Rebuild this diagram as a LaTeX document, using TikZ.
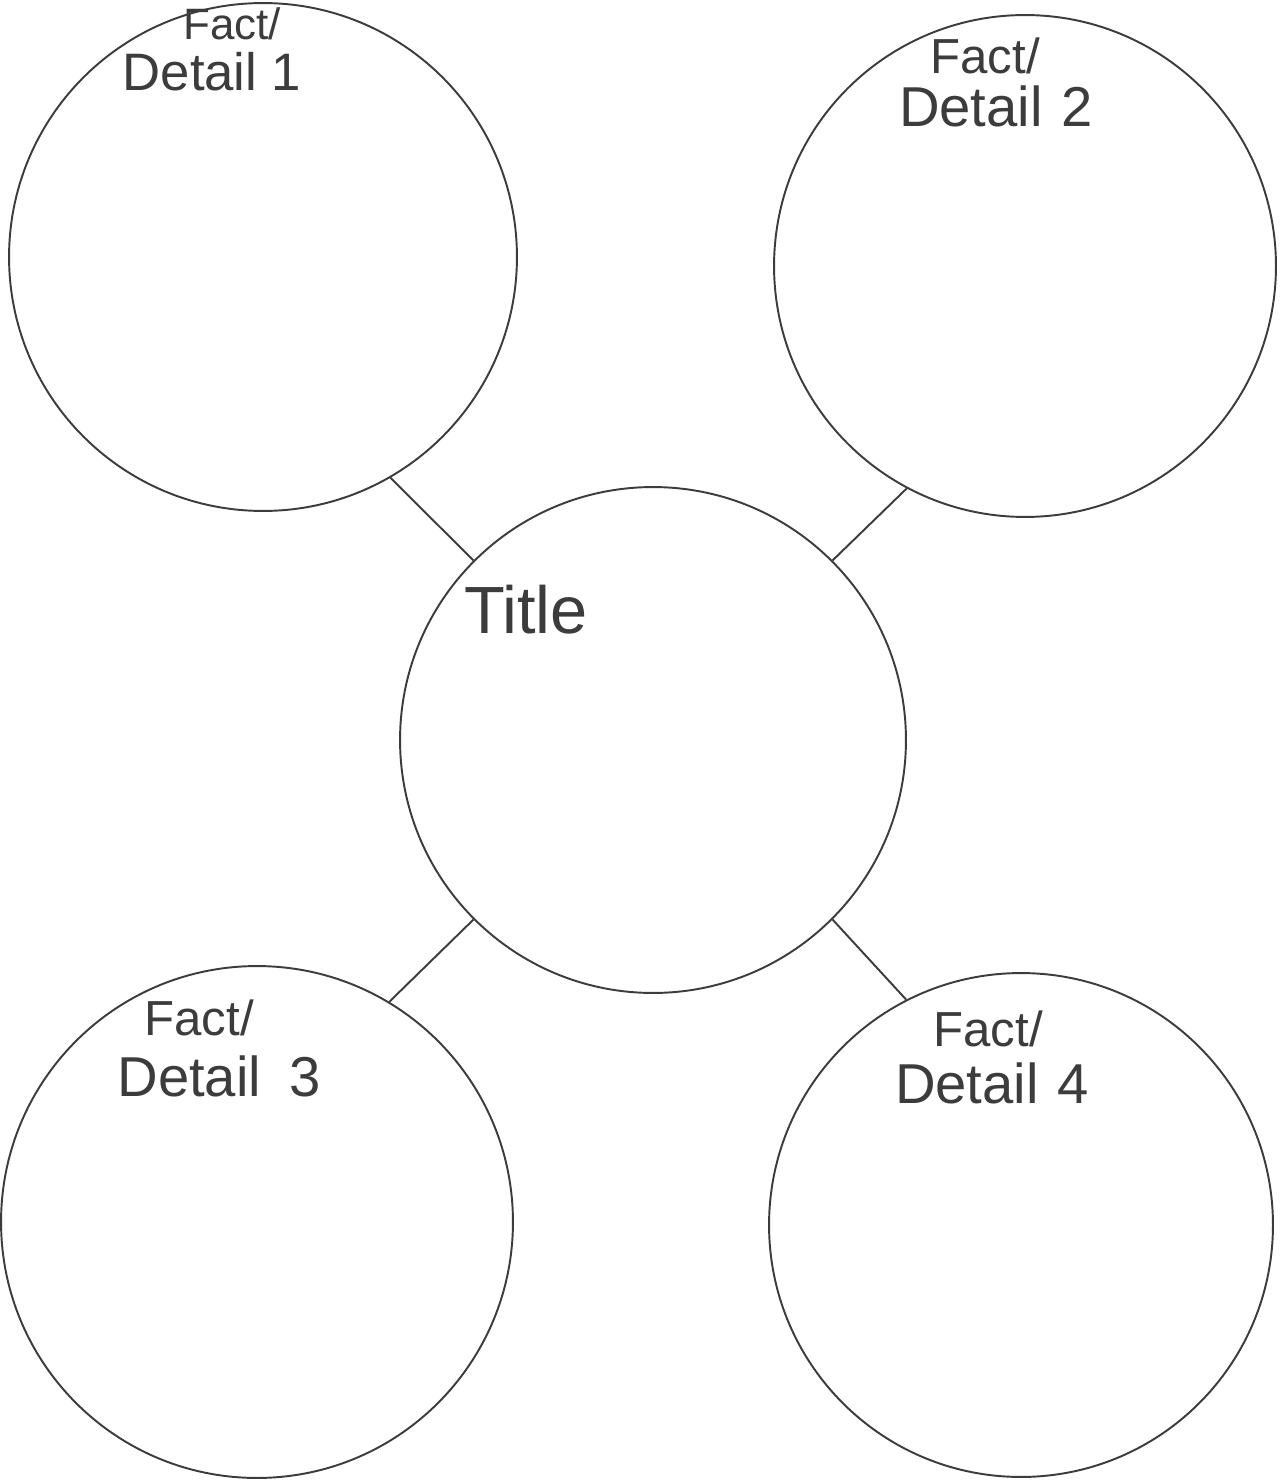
\documentclass[tikz,border=0pt]{standalone}
\usepackage{fontspec}
\setmainfont{Liberation Sans}
\definecolor{ink}{HTML}{3C3C3C}
\begin{document}
\begin{tikzpicture}[x=0.02cm,y=-0.02cm,
  bubble/.style={draw=ink,line width=1.1pt,circle,inner sep=0pt},
  link/.style={draw=ink,line width=1.1pt},
  lbl/.style={text=ink,inner sep=0pt,font=\fontsize{32}{36}\selectfont},
  small/.style={text=ink,inner sep=0pt,font=\fontsize{28}{32}\selectfont}]
\useasboundingbox[fill=white] (0,0) rectangle (1280,1483);
% circles
\node[bubble,minimum size=10.16cm] (c1) at (263,257) {};
\node[bubble,minimum size=10.04cm] (c2) at (1025,266) {};
\node[bubble,minimum size=10.12cm] (ct) at (653,740) {};
\node[bubble,minimum size=10.24cm] (c3) at (257,1222) {};
\node[bubble,minimum size=10.08cm] (c4) at (1021,1225) {};
% connectors
\draw[link] (c1.-60) -- (ct.135);
\draw[link] (c2.-118) -- (ct.45);
\draw[link] (ct.225) -- (c3.59);
\draw[link] (ct.315) -- (c4.117);
% labels
\node[small,font=\fontsize{25}{30}\selectfont] (f1) at (232,24) {Fact/};
\node[lbl,font=\fontsize{30}{34}\selectfont] (d1) at (212,72) {Detail 1};
\node[small] (f2) at (985,56) {Fact/};
\node[lbl] (d2) at (996,106) {Detail\,\,2};
\node[lbl,font=\fontsize{38}{42}\selectfont] (tt) at (526,610) {Title};
\node[small] (f3) at (199,1018) {Fact/};
\node[lbl] (d3) at (219,1076) {Detail\,\,\,3};
\node[small] (f4) at (988,1029) {Fact/};
\node[lbl] (d4) at (992,1083) {Detail\,\,4};
\end{tikzpicture}
\end{document}
